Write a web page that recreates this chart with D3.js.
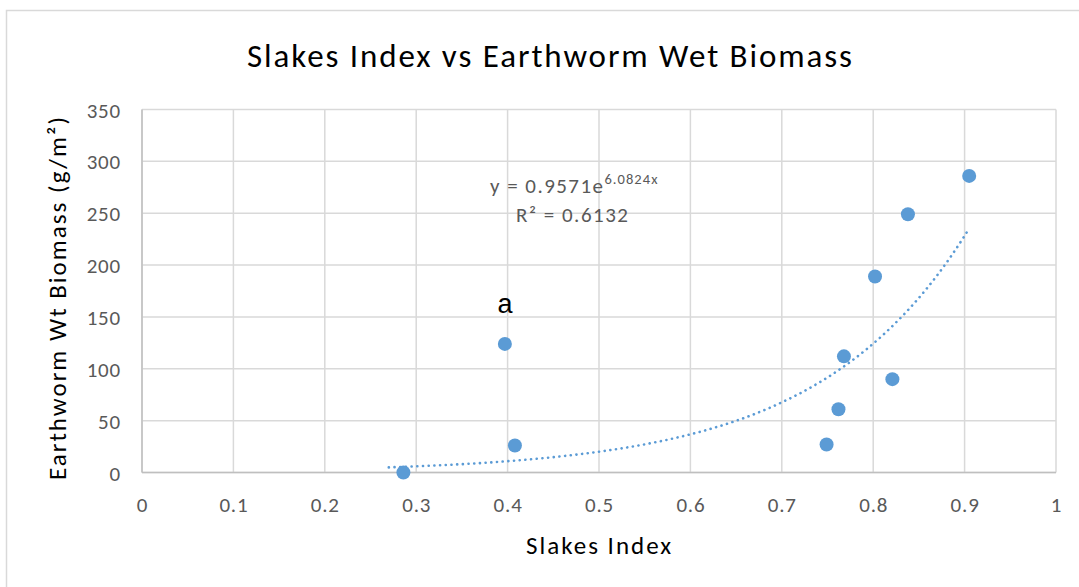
<!DOCTYPE html>
<html><head><meta charset="utf-8">
<script src="https://cdn.jsdelivr.net/npm/d3@7"></script>
<style>body{margin:0;background:#fff}svg{display:block}</style>
</head><body>
<svg id="c" width="1079" height="587"></svg>
<script>
const slakesIndex = [0.286, 0.397, 0.408, 0.749, 0.762, 0.768, 0.802, 0.821, 0.838, 0.905];
const biomass     = [0,     124,   26,    27,    61,    112,   189,   90,    249,   286];
const xTicks = [0,0.1,0.2,0.3,0.4,0.5,0.6,0.7,0.8,0.9,1];
const yTicks = [0,50,100,150,200,250,300,350];
const trendA = 0.9571, trendB = 6.0824;
const trendRange = [0.27, 0.905];
const title = "Slakes Index vs Earthworm Wet Biomass";
const xLabel = "Slakes Index";
const yLabel = "Earthworm Wt Biomass (g/m²)";
const annotation = "a";

const font = "Carlito, Calibri, Lato, 'Open Sans', sans-serif";
const svg = d3.select("#c");
const L = 142, R = 1056, T = 109.5, B = 472.5;
const x = d3.scaleLinear().domain([0,1]).range([L,R]);
const y = d3.scaleLinear().domain([0,350]).range([B,T]);

// chart border
svg.append("rect").attr("x",6.5).attr("y",10.5).attr("width",1200).attr("height",700)
  .attr("fill","none").attr("stroke","#D9D9D9").attr("stroke-width",1.5);

// gridlines
const grid = svg.append("g");
grid.selectAll("line.v").data(xTicks).join("line")
  .attr("x1",d=>x(d)).attr("x2",d=>x(d)).attr("y1",T).attr("y2",B)
  .attr("stroke","#D9D9D9").attr("stroke-width",1.5);
grid.selectAll("line.h").data(yTicks).join("line")
  .attr("x1",L).attr("x2",R).attr("y1",d=>y(d)).attr("y2",d=>y(d))
  .attr("stroke","#D9D9D9").attr("stroke-width",1.5);
// axis lines
svg.append("line").attr("x1",L).attr("x2",R).attr("y1",B).attr("y2",B).attr("stroke","#BFBFBF").attr("stroke-width",1.5);
svg.append("line").attr("x1",L).attr("x2",L).attr("y1",T).attr("y2",B).attr("stroke","#BFBFBF").attr("stroke-width",1.5);

// axes tick labels using d3 axes
const xAxis = svg.append("g").attr("transform",`translate(0,${B})`)
  .call(d3.axisBottom(x).tickValues(xTicks).tickSize(0).tickPadding(25).tickFormat(d=>String(d)));
const yAxis = svg.append("g").attr("transform",`translate(${L},0)`)
  .call(d3.axisLeft(y).tickValues(yTicks).tickSize(0).tickPadding(21).tickFormat(d3.format("d")));
[xAxis,yAxis].forEach(g=>{
  g.select(".domain").remove();
  g.selectAll("text").attr("fill","#595959").style("font-family",font)
    .style("font-size","21px").style("letter-spacing","0.8px");
});
yAxis.selectAll("text").attr("dy","0.36em");

// trendline
const tx = d3.range(trendRange[0], trendRange[1]+1e-9, 0.005);
const line = d3.line().x(d=>x(d)).y(d=>y(trendA*Math.exp(trendB*d)));
svg.append("path").datum(tx.concat([trendRange[1]])).attr("d",line)
  .attr("fill","none").attr("stroke","#5B9BD5").attr("stroke-width",2.6)
  .attr("stroke-dasharray","0.1 5.6").attr("stroke-linecap","round");

// points
svg.selectAll("circle.p").data(slakesIndex).join("circle")
  .attr("cx",d=>x(d)).attr("cy",(d,i)=>y(biomass[i])).attr("r",7)
  .attr("fill","#5B9BD5");

// equation
const eq = svg.append("text").attr("x",490).attr("y",193).attr("fill","#595959")
  .style("font-family",font).style("font-size","21px");
eq.append("tspan").attr("textLength",113).attr("lengthAdjust","spacing").text("y = 0.9571e");
eq.append("tspan").attr("dy",-9).style("font-size","14.5px").attr("textLength",53).attr("lengthAdjust","spacing").text("6.0824x");
svg.append("text").attr("x",516).attr("y",221.5).attr("fill","#595959")
  .attr("textLength",112).attr("lengthAdjust","spacing")
  .style("font-family",font).style("font-size","21px").text("R² = 0.6132");

// annotation
svg.append("text").attr("x",505).attr("y",313).attr("text-anchor","middle")
  .style("font-family","'Liberation Sans', Arial, sans-serif").style("font-size","27px").attr("fill","#000").text(annotation);

// title
svg.append("text").attr("x",247).attr("y",66.5)
  .attr("textLength",605).attr("lengthAdjust","spacing")
  .style("font-family",font).style("font-size","33px").attr("fill","#000").text(title);
// x label
svg.append("text").attr("x",526).attr("y",554)
  .attr("textLength",145).attr("lengthAdjust","spacing")
  .style("font-family",font).style("font-size","25px").attr("fill","#000").text(xLabel);
// y label
svg.append("text").attr("transform","translate(66,480) rotate(-90)")
  .attr("textLength",363).attr("lengthAdjust","spacing")
  .style("font-family",font).style("font-size","25px").attr("fill","#000").text(yLabel);
</script>
</body></html>
